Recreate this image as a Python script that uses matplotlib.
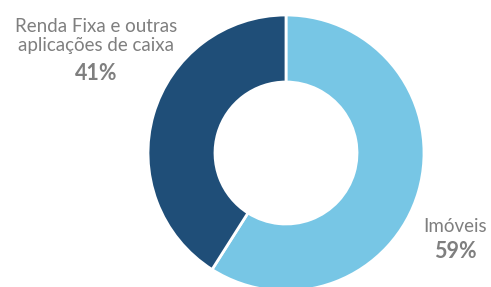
import matplotlib.pyplot as plt

# --- data ---
labels = ["Imóveis", "Renda Fixa e outras\naplicações de caixa"]
values = [59, 41]
colors = ["#77C6E5", "#1F4E78"]

fig = plt.figure(figsize=(4.91, 2.87), dpi=100)
ax = fig.add_axes([0, 0, 1, 1])

# donut, laid out in pixel units
ax.pie(values, colors=colors, startangle=90, counterclock=False,
       center=(286, 134), radius=138, frame=True,
       wedgeprops=dict(width=67, edgecolor="white", linewidth=2))
ax.set_xlim(0, 491)
ax.set_ylim(0, 287)
ax.set_aspect("equal")
ax.axis("off")

txt = "#7F7F7F"
fam = ["Lato", "DejaVu Sans"]
ax.text(96, 251, labels[1], ha="center", va="center", fontsize=13.5,
        color=txt, family=fam, linespacing=1.1)
ax.text(96, 214, f"{values[1]}%", ha="center", va="center", fontsize=15.5,
        color=txt, family=fam, fontweight="bold")
ax.text(455, 60, labels[0], ha="center", va="center", fontsize=13.5,
        color=txt, family=fam)
ax.text(455, 35, f"{values[0]}%", ha="center", va="center", fontsize=15.5,
        color=txt, family=fam, fontweight="bold")

fig.savefig("out.png", dpi=100)
